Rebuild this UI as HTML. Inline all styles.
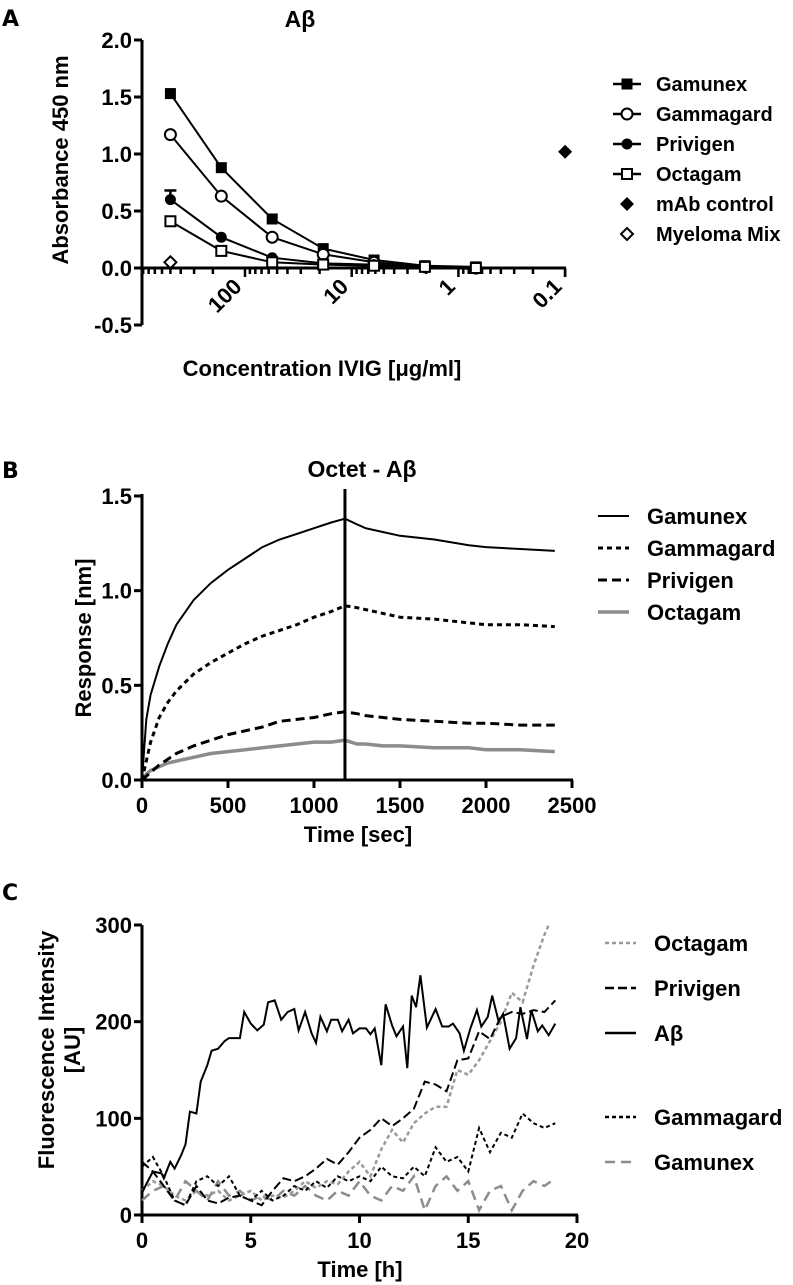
<!DOCTYPE html>
<html><head><meta charset="utf-8"><style>
html,body{margin:0;padding:0;background:#fff;}
svg{display:block;font-family:"Liberation Sans",Arial,sans-serif;font-weight:bold;}
</style></head>
<body>
<svg id="fig" width="793" height="1285" viewBox="0 0 793 1285" xmlns="http://www.w3.org/2000/svg">
<text x="2" y="26" font-family="DejaVu Sans" font-size="22">A</text>
<text x="300" y="27" font-size="23" text-anchor="middle">Aβ</text>
<text x="2" y="478" font-family="DejaVu Sans" font-size="22">B</text>
<text x="362" y="477" font-size="23" text-anchor="middle">Octet - Aβ</text>
<text x="2" y="900" font-family="DejaVu Sans" font-size="22">C</text>
<g id="pa"></g>
<g id="pb"></g>
<g id="pc"></g>
</svg>
<script>
// ---- Panel A data ----
const aConc = [500, 166.7, 55.6, 18.5, 6.17, 2.06, 0.686];
const aGamunex = [1.53, 0.88, 0.43, 0.17, 0.07, 0.02, 0.01];
const aGammagard = [1.17, 0.63, 0.27, 0.12, 0.05, 0.01, 0.0];
const aPrivigen = [0.60, 0.27, 0.09, 0.04, 0.03, 0.01, -0.01];
const aPrivigenErr = [0.08, 0, 0, 0, 0, 0, 0];
const aOctagam = [0.41, 0.15, 0.05, 0.03, 0.02, 0.01, 0.0];
const aMabConc = [0.1];
const aMab = [1.02];
const aMyelomaConc = [500];
const aMyeloma = [0.05];
const aYTicks = [-0.5, 0.0, 0.5, 1.0, 1.5, 2.0];
const aYTickLabels = ["-0.5", "0.0", "0.5", "1.0", "1.5", "2.0"];
const aXMajor = [100, 10, 1, 0.1];
const aXMajorLabels = ["100", "10", "1", "0.1"];

// ---- Panel B data ----
const bTime = [0, 25, 50, 100, 150, 200, 300, 400, 500, 600, 700, 800, 900, 1000, 1100, 1180, 1250, 1300, 1400, 1500, 1700, 1900, 2000, 2200, 2400];
const bGamunex = [0, 0.32, 0.45, 0.6, 0.72, 0.82, 0.95, 1.04, 1.11, 1.17, 1.23, 1.27, 1.30, 1.33, 1.36, 1.38, 1.35, 1.33, 1.31, 1.29, 1.27, 1.24, 1.23, 1.22, 1.21];
const bGammagard = [0, 0.1, 0.2, 0.33, 0.41, 0.47, 0.56, 0.62, 0.67, 0.72, 0.76, 0.79, 0.82, 0.86, 0.89, 0.92, 0.91, 0.90, 0.88, 0.86, 0.85, 0.83, 0.82, 0.82, 0.81];
const bPrivigen = [0, 0.02, 0.04, 0.08, 0.11, 0.14, 0.18, 0.21, 0.24, 0.26, 0.28, 0.31, 0.32, 0.33, 0.35, 0.36, 0.35, 0.34, 0.33, 0.32, 0.31, 0.30, 0.30, 0.29, 0.29];
const bOctagam = [0, 0.03, 0.05, 0.07, 0.09, 0.10, 0.12, 0.14, 0.15, 0.16, 0.17, 0.18, 0.19, 0.20, 0.20, 0.21, 0.19, 0.19, 0.18, 0.18, 0.17, 0.17, 0.16, 0.16, 0.15];
const bXTicks = [0, 500, 1000, 1500, 2000, 2500];
const bYTicks = [0, 0.5, 1.0, 1.5];
const bYTickLabels = ["0.0", "0.5", "1.0", "1.5"];
const bSwitch = [1180];

// ---- Panel C data ----
const cAbT = [0,0.2,0.5,0.9,1.0,1.3,1.5,1.8,2.0,2.2,2.5,2.7,3.0,3.2,3.5,3.8,4.0,4.5,4.7,5.0,5.3,5.6,5.8,6.1,6.4,6.7,7.0,7.2,7.5,7.8,8.0,8.2,8.5,8.7,9.0,9.2,9.5,9.7,10.0,10.3,10.5,10.7,11.0,11.2,11.5,11.7,12.0,12.2,12.4,12.6,12.8,13.1,13.5,13.8,14.1,14.3,14.6,14.8,15.1,15.4,15.6,15.9,16.1,16.4,16.6,16.9,17.2,17.4,17.7,17.9,18.2,18.4,18.7,19.0];
const cAb = [23,32,45,43,38,55,48,62,73,107,105,138,155,170,172,180,183,183,210,198,191,197,220,222,202,210,213,191,210,188,178,205,190,202,202,190,202,188,193,193,187,193,155,218,196,185,195,152,227,215,248,194,213,195,195,198,188,170,193,212,195,205,227,200,208,172,183,215,182,212,190,196,186,198];
const cT = [0,0.5,1,1.5,2,2.5,3,3.5,4,4.5,5,5.5,6,6.5,7,7.5,8,8.5,9,9.5,10,10.5,11,11.5,12,12.5,13,13.5,14,14.5,15,15.5,16,16.5,17,17.5,18,18.5,19];
const cPrivigen = [55,45,30,15,10,30,15,12,18,20,15,10,25,38,35,40,48,58,52,65,80,88,100,92,100,110,138,135,128,160,162,190,182,205,210,208,212,210,222];
const cGammagard = [50,60,40,15,10,35,40,30,40,20,15,25,15,20,30,25,35,28,40,35,40,35,50,40,38,50,40,70,55,60,45,90,65,85,80,105,95,90,95];
const cGamunex = [15,25,30,15,35,25,15,35,20,25,15,20,15,25,20,30,20,15,25,20,35,20,15,30,25,40,5,30,40,25,35,5,25,30,5,25,35,30,38];
const cOctaT = [0,0.5,1,1.5,2,2.5,3,3.5,4,4.5,5,5.5,6,6.5,7,7.5,8,8.5,9,9.5,10,10.5,11,11.5,12,12.5,13,13.5,14,14.5,15,15.5,16,16.5,17,17.5,18,18.5,18.7];
const cOctagam = [25,35,30,20,15,25,20,25,15,20,25,15,20,18,25,35,28,35,32,45,55,40,68,88,75,95,105,112,112,150,145,160,180,200,230,220,258,290,300];
const cXTicks = [0, 5, 10, 15, 20];
const cYTicks = [0, 100, 200, 300];

const NS = "http://www.w3.org/2000/svg";
const TF = 22;
const AF = 22;
function mk(parent, tag, attrs, txt) {
  const e = document.createElementNS(NS, tag);
  for (const k in attrs) e.setAttribute(k, attrs[k]);
  if (txt !== undefined) e.textContent = txt;
  parent.appendChild(e);
  return e;
}
function pathD(xs, ys, fx, fy) {
  return xs.map((x, i) => (i ? "L" : "M") + fx(x).toFixed(1) + "," + fy(ys[i]).toFixed(1)).join(" ");
}

// ================= Panel A =================
const pa = document.getElementById("pa");
const axA = v => 245 + (2 - Math.log10(v)) * 106.7;
const ayA = v => 268 - v * 114;
let e = mk(pa, "line", {x1:142, y1:ayA(2.0), x2:142, y2:ayA(-0.5), stroke:"#000", "stroke-width":3});


aYTicks.forEach((t, i) => {
  const l = mk(pa, "line", {x1:134, y1:ayA(t), x2:142, y2:ayA(t), stroke:"#000", "stroke-width":3});
  
  
  const tx = mk(pa, "text", {x:132, y:ayA(t) + 8, "font-size":TF, "text-anchor":"end"}, aYTickLabels[i]);
  
  
});
e = mk(pa, "line", {x1:142, y1:268, x2:566, y2:268, stroke:"#000", "stroke-width":3});


[1000, 100, 10, 1].forEach(dec => {
  for (let k = 1; k <= 9; k++) {
    const v = dec / 10 * k;
    const x = axA(v);
    if (x < 142 || x > 566) continue;
    const major = (k === 1);
    const l = mk(pa, "line", {x1:x, y1:268, x2:x, y2:major ? 277 : 274, stroke:"#000", "stroke-width":2.5});
    
    
  }
});
let t01 = mk(pa, "line", {x1:axA(0.1), y1:268, x2:axA(0.1), y2:277, stroke:"#000", "stroke-width":2.5});


aXMajor.forEach((v, i) => {
  const x = axA(v);
  const tx = mk(pa, "text", {x:x - 2, y:288, "font-size":TF, "text-anchor":"end", transform:`rotate(-45 ${x-2} 288)`}, aXMajorLabels[i]);
  
  
});
e = mk(pa, "text", {x:68, y:160, "font-size":AF, "text-anchor":"middle", transform:"rotate(-90 68 160)"}, "Absorbance 450 nm");


e = mk(pa, "text", {x:322, y:376, "font-size":AF, "text-anchor":"middle"}, "Concentration IVIG [μg/ml]");



function marker(g, type, x, y) {
  let m;
  if (type === "sqFill") m = mk(g, "rect", {x:x-5.5, y:y-5.5, width:11, height:11, fill:"#000"});
  else if (type === "sqOpen") m = mk(g, "rect", {x:x-5, y:y-5, width:10, height:10, fill:"#fff", stroke:"#000", "stroke-width":2});
  else if (type === "cFill") m = mk(g, "circle", {cx:x, cy:y, r:5.5, fill:"#000"});
  else if (type === "cOpen") m = mk(g, "circle", {cx:x, cy:y, r:5.5, fill:"#fff", stroke:"#000", "stroke-width":2});
  else if (type === "dFill") m = mk(g, "path", {d:`M${x},${y-7} L${x+7},${y} L${x},${y+7} L${x-7},${y} Z`, fill:"#000"});
  else m = mk(g, "path", {d:`M${x},${y-6} L${x+6},${y} L${x},${y+6} L${x-6},${y} Z`, fill:"#fff", stroke:"#000", "stroke-width":2});
  return m;
}
const aSeries = [
  ["gamunex", aConc, aGamunex, "sqFill", true],
  ["gammagard", aConc, aGammagard, "cOpen", true],
  ["privigen", aConc, aPrivigen, "cFill", true],
  ["octagam", aConc, aOctagam, "sqOpen", true],
  ["mab-control", aMabConc, aMab, "dFill", false],
  ["myeloma-mix", aMyelomaConc, aMyeloma, "dOpen", false]
];
aSeries.forEach(s => {
  const g = mk(pa, "g", {});
  
  
  if (s[4]) mk(g, "path", {d:pathD(s[1], s[2], axA, ayA), fill:"none", stroke:"#000", "stroke-width":2});
  if (s[0] === "privigen") {
    aPrivigenErr.forEach((er, i) => {
      if (er > 0) {
        const x = axA(aConc[i]), y1 = ayA(aPrivigen[i]), y2 = ayA(aPrivigen[i] + er);
        mk(g, "line", {x1:x, y1:y1, x2:x, y2:y2, stroke:"#000", "stroke-width":2.5});
        mk(g, "line", {x1:x-6, y1:y2, x2:x+6, y2:y2, stroke:"#000", "stroke-width":2.5});
      }
    });
  }
  s[1].forEach((c, i) => {
    const m = marker(g, s[3], axA(c), ayA(s[2][i]));
    
    
  });
});
const aLeg = [["Gamunex","sqFill",true],["Gammagard","cOpen",true],["Privigen","cFill",true],["Octagam","sqOpen",true],["mAb control","dFill",false],["Myeloma Mix","dOpen",false]];
aLeg.forEach((L, i) => {
  const y = 84 + i * 30;
  const g = mk(pa, "g", {});
  
  
  if (L[2]) mk(g, "line", {x1:613, y1:y, x2:641, y2:y, stroke:"#000", "stroke-width":2.5});
  marker(g, L[1], 627, y);
  mk(g, "text", {x:656, y:y + 7, "font-size":20}, L[0]);
});

// ================= Panel B =================
const pb = document.getElementById("pb");
const axB = v => 142 + v / 2500 * 430;
const ayB = v => 780 - v / 1.5 * 284;
e = mk(pb, "line", {x1:142, y1:494, x2:142, y2:781, stroke:"#000", "stroke-width":3});


e = mk(pb, "line", {x1:141, y1:780, x2:573, y2:780, stroke:"#000", "stroke-width":3});


bYTicks.forEach((t, i) => {
  const l = mk(pb, "line", {x1:134, y1:ayB(t), x2:142, y2:ayB(t), stroke:"#000", "stroke-width":3});
  
  
  const tx = mk(pb, "text", {x:132, y:ayB(t) + 8, "font-size":TF, "text-anchor":"end"}, bYTickLabels[i]);
  
  
});
bXTicks.forEach(t => {
  const l = mk(pb, "line", {x1:axB(t), y1:780, x2:axB(t), y2:788, stroke:"#000", "stroke-width":3});
  
  
  const tx = mk(pb, "text", {x:axB(t), y:813, "font-size":TF, "text-anchor":"middle"}, String(t));
  
  
});
e = mk(pb, "text", {x:91, y:638, "font-size":AF, "text-anchor":"middle", transform:"rotate(-90 91 638)"}, "Response [nm]");


e = mk(pb, "text", {x:358, y:842, "font-size":AF, "text-anchor":"middle"}, "Time [sec]");


const bSeries = [
  ["octagam", bOctagam, "#8c8c8c", 3.5, ""],
  ["privigen", bPrivigen, "#000", 3, "9,5"],
  ["gammagard", bGammagard, "#000", 3, "5,4"],
  ["gamunex", bGamunex, "#000", 2, ""]
];
bSeries.forEach(s => {
  const p = mk(pb, "path", {d:pathD(bTime, s[1], axB, ayB), fill:"none", stroke:s[2], "stroke-width":s[3], "stroke-dasharray":s[4] || "none"});
  
  
});
e = mk(pb, "line", {x1:axB(bSwitch[0]), y1:489, x2:axB(bSwitch[0]), y2:780, stroke:"#000", "stroke-width":3});


const bLeg = [["Gamunex","#000",2,""],["Gammagard","#000",3,"5,4"],["Privigen","#000",3,"9,5"],["Octagam","#8c8c8c",3.5,""]];
bLeg.forEach((L, i) => {
  const y = 516 + i * 32;
  const g = mk(pb, "g", {});
  
  
  mk(g, "line", {x1:598, y1:y, x2:629, y2:y, stroke:L[1], "stroke-width":L[2], "stroke-dasharray":L[3] || "none"});
  mk(g, "text", {x:647, y:y + 8, "font-size":22}, L[0]);
});

// ================= Panel C =================
const pc = document.getElementById("pc");
const axC = v => 142 + v / 20 * 435;
const ayC = v => 1215 - v / 300 * 290;
e = mk(pc, "line", {x1:142, y1:925, x2:142, y2:1216, stroke:"#000", "stroke-width":3});


e = mk(pc, "line", {x1:141, y1:1215, x2:578, y2:1215, stroke:"#000", "stroke-width":3});


cYTicks.forEach(t => {
  const l = mk(pc, "line", {x1:134, y1:ayC(t), x2:142, y2:ayC(t), stroke:"#000", "stroke-width":3});
  
  
  const tx = mk(pc, "text", {x:132, y:ayC(t) + 8, "font-size":TF, "text-anchor":"end"}, String(t));
  
  
});
cXTicks.forEach(t => {
  const l = mk(pc, "line", {x1:axC(t), y1:1215, x2:axC(t), y2:1223, stroke:"#000", "stroke-width":3});
  
  
  const tx = mk(pc, "text", {x:axC(t), y:1248, "font-size":TF, "text-anchor":"middle"}, String(t));
  
  
});
e = mk(pc, "text", {x:54, y:1050, "font-size":AF, "text-anchor":"middle", transform:"rotate(-90 54 1050)"}, "Fluorescence Intensity");


e = mk(pc, "text", {x:80, y:1050, "font-size":AF, "text-anchor":"middle", transform:"rotate(-90 80 1050)"}, "[AU]");


e = mk(pc, "text", {x:360, y:1277, "font-size":AF, "text-anchor":"middle"}, "Time [h]");


const cSeries = [
  ["gamunex", cT, cGamunex, "#8c8c8c", 2.5, "10,6"],
  ["octagam", cOctaT, cOctagam, "#9a9a9a", 2.5, "4,3"],
  ["gammagard", cT, cGammagard, "#000", 2, "4,3"],
  ["privigen", cT, cPrivigen, "#000", 2, "9,4"],
  ["abeta", cAbT, cAb, "#000", 2, ""]
];
cSeries.forEach(s => {
  const p = mk(pc, "path", {d:pathD(s[1], s[2], axC, ayC), fill:"none", stroke:s[3], "stroke-width":s[4], "stroke-dasharray":s[5] || "none"});
  
  
});
const cLeg = [["Octagam",943,"#9a9a9a","4,3"],["Privigen",988,"#000","9,4"],["Aβ",1033,"#000",""],["Gammagard",1117,"#000","4,3"],["Gamunex",1162,"#8c8c8c","10,6"]];
cLeg.forEach(L => {
  const g = mk(pc, "g", {});
  
  
  mk(g, "line", {x1:605, y1:L[1], x2:636, y2:L[1], stroke:L[2], "stroke-width":2.5, "stroke-dasharray":L[3] || "none"});
  mk(g, "text", {x:654, y:L[1] + 8, "font-size":22}, L[0]);
});
</script>
</body></html>
